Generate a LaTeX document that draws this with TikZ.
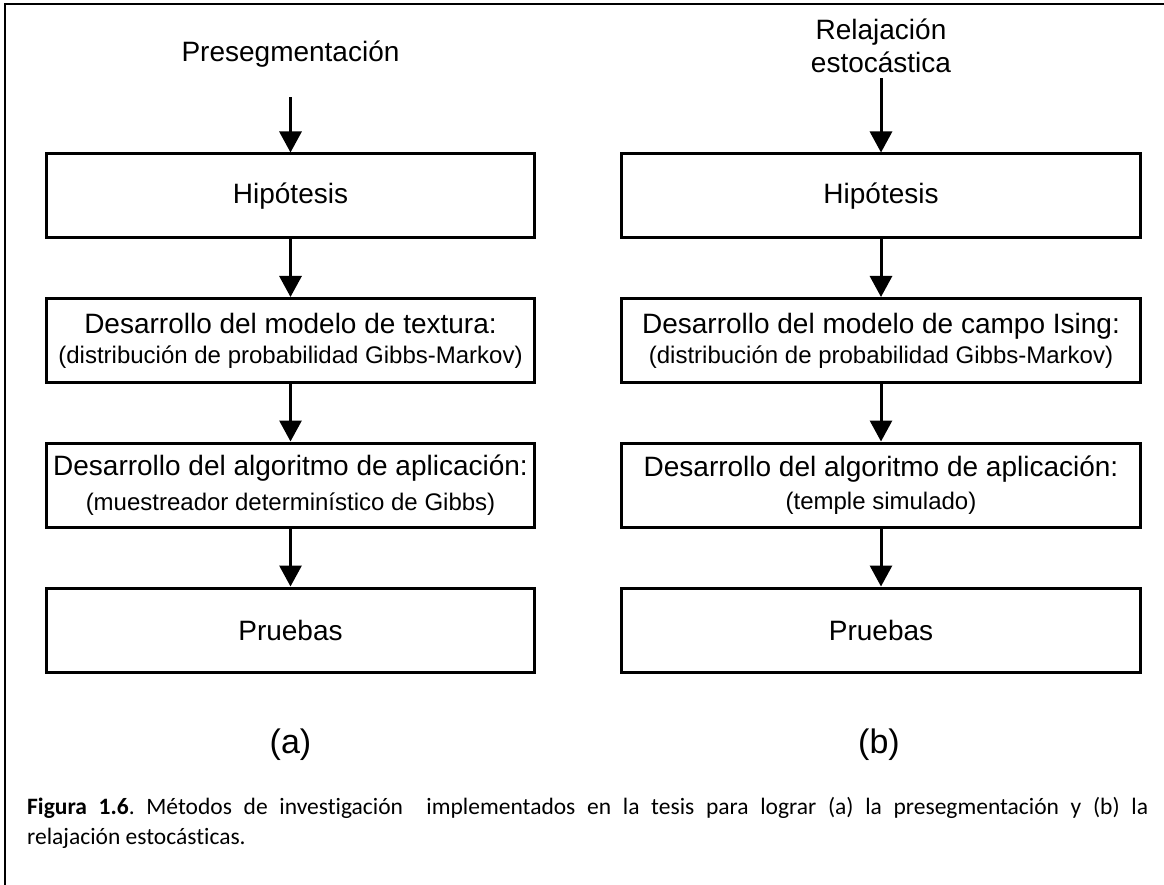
\documentclass[tikz,border=0pt]{standalone}
\usepackage{fontspec}
\setmainfont{Liberation Sans}
\newfontfamily\carlito[Ligatures=NoCommon]{Carlito}
\usepackage{tikz}
\usetikzlibrary{arrows.meta}
\frenchspacing

\begin{document}
\begin{tikzpicture}[x=1pt, y=-1pt,
  caja/.style={draw, line width=3pt, minimum width=488pt, minimum height=84pt,
    inner sep=0pt, align=center, font=\fontsize{28}{32}\selectfont},
  cajab/.style={caja, minimum width=519pt},
  titulo/.style={inner sep=0pt, align=center, font=\fontsize{28}{33}\selectfont},
  flecha/.style={line width=3pt, -{Triangle[length=21pt, width=22pt]}}]
  \useasboundingbox (0,0) rectangle (1164,885);

  % Frame
  \draw[line width=1.5pt] (5,885) -- (5,4) -- (1164,4);

  % Nodes (a)
  \node[titulo, anchor=base] (ta) at (290.5,62) {Presegmentación};
  \node[caja] (ha) at (290.5,196) {Hipótesis};
  \node[caja] (ma) at (290.5,340.5) {Desarrollo del modelo de textura:\\[-2pt]{\fontsize{24}{28}\selectfont (distribución de probabilidad Gibbs-Markov)}};
  \node[caja] (ga) at (290.5,485) {Desarrollo del algoritmo de aplicación:\\[3pt]{\fontsize{24}{28}\selectfont (muestreador determinístico de Gibbs)}};
  \node[caja] (pa) at (290.5,630) {Pruebas};
  \node[font=\fontsize{34}{40}\selectfont] (la) at (290.5,745) {(a)};

  % Nodes (b)
  \node[titulo] (tb) at (881,46) {Relajación\\estocástica};
  \node[cajab] (hb) at (881,196) {Hipótesis};
  \node[cajab] (mb) at (881,340.5) {Desarrollo del modelo de campo Ising:\\[-2pt]{\fontsize{24}{28}\selectfont (distribución de probabilidad Gibbs-Markov)}};
  \node[cajab] (gb) at (881,485) {Desarrollo del algoritmo de aplicación:\\[1pt]{\fontsize{24}{28}\selectfont (temple simulado)}};
  \node[cajab] (pb) at (881,630) {Pruebas};
  \node[font=\fontsize{34}{40}\selectfont] (lb) at (879,745) {(b)};

  % Arrows from the titles
  \draw[flecha, shorten <=29pt] (ta) -- (ha);
  \draw[flecha, shorten <=5pt] (tb) -- (hb);

  % Arrows between the steps
  \foreach \c in {a,b}
  {
    \draw[flecha] (h\c) -- (m\c);
    \draw[flecha] (m\c) -- (g\c);
    \draw[flecha] (g\c) -- (p\c);
  }

  % Caption
  \node[anchor=base west, text width=1121pt, align=justify, inner sep=0pt,
    font=\carlito\fontsize{23.5}{30}\selectfont] (cap) at (27,814)
    {\textbf{Figura 1.6}. Métodos de investigación \ implementados en la tesis para lograr (a) la presegmentación y (b) la\linebreak relajación estocásticas.};
\end{tikzpicture}
\end{document}
